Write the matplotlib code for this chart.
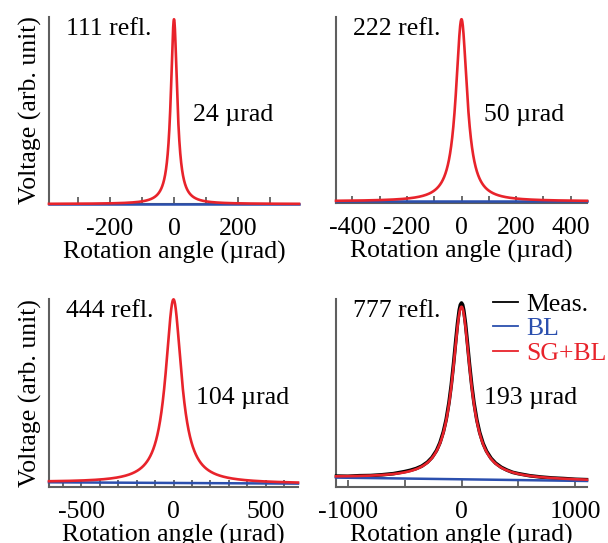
import numpy as np
import matplotlib
matplotlib.use('Agg')
import matplotlib.pyplot as plt
from matplotlib.ticker import MultipleLocator

plt.rcParams['font.family'] = ['Liberation Serif', 'DejaVu Serif']
plt.rcParams['font.size'] = 18.5
plt.rcParams['axes.unicode_minus'] = False

# 반사면별 rocking curve 정보
reflections = ['111', '222', '444', '777']
fwhm = [24, 50, 104, 193]  # µrad
x_half_range = [390, 460, 675, 1105]
major_ticks = [[-200, 0, 200], [-400, -200, 0, 200, 400], [-500, 0, 500], [-1000, 0, 1000]]
minor_step = [100, 100, 100, 500]
peak_height = [0.988, 0.988, 0.998, 0.959]  # SG+BL 최대값
bl_left = [0.0, 0.009, 0.025, 0.050]  # baseline 왼쪽 끝
bl_right = [0.0, 0.009, 0.018, 0.032]  # baseline 오른쪽 끝

# 777 반사 측정값
meas_angle = [-1100, -1000, -900, -800, -700, -600, -500, -450, -400, -350, -300, -260,
              -220, -190, -160, -135, -110, -90, -70, -50, -35, -20, -10, 0,
              10, 20, 35, 50, 70, 90, 110, 135, 160, 190, 220, 260,
              300, 350, 400, 450, 500, 600, 700, 800, 900, 1000, 1100]
meas_volt = [0.058, 0.057, 0.060, 0.061, 0.065, 0.071, 0.082, 0.089, 0.098, 0.111, 0.132, 0.157,
             0.194, 0.235, 0.293, 0.359, 0.450, 0.543, 0.656, 0.781, 0.870, 0.941, 0.969, 0.979,
             0.969, 0.940, 0.870, 0.780, 0.655, 0.542, 0.448, 0.357, 0.290, 0.232, 0.191, 0.153,
             0.127, 0.105, 0.090, 0.078, 0.071, 0.060, 0.053, 0.048, 0.045, 0.041, 0.039]

RED = '#e8232b'
BLUE = '#2b4fae'
GRAY = '#5f5f5f'

fig = plt.figure(figsize=(6.08, 5.43), dpi=100)
W, H = 608, 543
boxes = [(49, 17, 299, 204), (336, 17, 587, 203), (49, 299, 298, 487), (336, 299, 587, 487)]

for i in range(4):
    l, t, r, b = boxes[i]
    ax = fig.add_axes([l / W, (H - b) / H, (r - l) / W, (b - t) / H])
    xr = x_half_range[i]

    angle = np.linspace(-xr, xr, 3001)
    baseline = np.interp(angle, [-xr, xr], [bl_left[i], bl_right[i]])
    bl0 = np.interp(0, [-xr, xr], [bl_left[i], bl_right[i]])
    amp = peak_height[i] - bl0
    fit = baseline + amp / (1 + (2 * angle / fwhm[i]) ** 2)

    if i == 3:
        ax.plot(meas_angle, meas_volt, color='black', lw=2.6, label='Meas.', clip_on=False,
                zorder=3, solid_joinstyle='round')
    ax.plot([-xr, xr], [bl_left[i], bl_right[i]], color=BLUE, lw=1.8, label='BL', clip_on=False, zorder=4)
    ax.plot(angle, fit, color=RED, lw=1.9, label='SG+BL', clip_on=False, zorder=5)

    ax.set_xlim(-xr, xr)
    ax.set_ylim(0, 1)
    ax.set_xticks(major_ticks[i])
    ax.xaxis.set_minor_locator(MultipleLocator(minor_step[i]))
    ax.tick_params(axis='x', which='both', direction='in', length=5, width=1.3, color=GRAY, pad=10)
    ax.tick_params(axis='y', left=False, labelleft=False)
    for side in ['top', 'right']:
        ax.spines[side].set_visible(False)
    for side in ['left', 'bottom']:
        ax.spines[side].set_color(GRAY)
        ax.spines[side].set_linewidth(1.5)

    ax.set_xlabel('Rotation angle (µrad)', labelpad=1)
    if i % 2 == 0:
        ax.set_ylabel('Voltage (arb. unit)', labelpad=5)

    ax.text(0.068, 0.935, f'{reflections[i]} refl.', transform=ax.transAxes, va='center', ha='left')
    ax.text(0.59 if i != 0 else 0.576, 0.475, f'{fwhm[i]} µrad', transform=ax.transAxes,
            va='center', ha='left')

    if i == 3:
        leg = ax.legend(loc='upper left', bbox_to_anchor=(0.573, 1.10), frameon=False,
                        handlelength=1.0, handletextpad=0.3, labelspacing=0.05, borderpad=0,
                        labelcolor=['black', BLUE, RED])
        for line in leg.get_lines():
            line.set_linewidth(1.3)

fig.savefig('out.png', dpi=100)
